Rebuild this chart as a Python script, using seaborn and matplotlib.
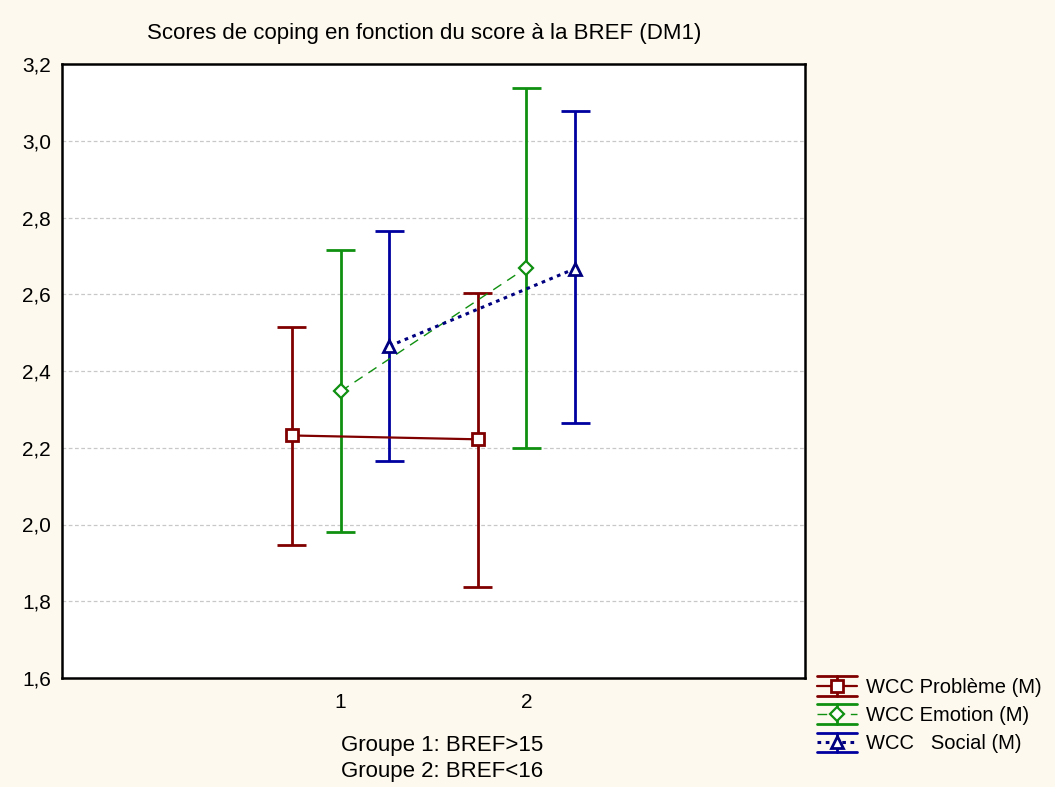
import numpy as np
import pandas as pd
import matplotlib
matplotlib.use("Agg")
import matplotlib.pyplot as plt
import seaborn as sns
from matplotlib.legend_handler import HandlerBase
from matplotlib.lines import Line2D

# ---- data ----
groups = [1, 2]
series = ["WCC Problème (M)", "WCC Emotion (M)", "WCC   Social (M)"]
prob_mean = [2.232, 2.222]
prob_low = [1.947, 1.837]
prob_high = [2.514, 2.603]
emo_mean = [2.347, 2.669]
emo_low = [1.980, 2.200]
emo_high = [2.715, 3.137]
soc_mean = [2.465, 2.667]
soc_low = [2.166, 2.265]
soc_high = [2.765, 3.077]
yticks = [1.6, 1.8, 2.0, 2.2, 2.4, 2.6, 2.8, 3.0, 3.2]
title = "Scores de coping en fonction du score à la BREF (DM1)"
notes = ["Groupe 1: BREF>15", "Groupe 2: BREF<16"]

sns.set_theme(style="white")
plt.rcParams['font.family'] = ['Liberation Sans', 'DejaVu Sans']
plt.rcParams['text.color'] = 'black'

FS = 15
TFS = 16
bg = "#fdf9ee"
fig = plt.figure(figsize=(10.55, 7.87), dpi=100, facecolor=bg)
ax = fig.add_axes([62/1055, 1-678/787, (805-62)/1055, (678-64)/787])
ax.set_facecolor("white")

styles = [
    dict(color="#800000", ecolor="#800000", ls="-", lw=1.6, marker="s", ms=8.5, mew=2.0, offset=-0.263),
    dict(color="#109010", ecolor="#109010", ls=(0, (7, 5)), lw=1.0, marker="D", ms=7.5, mew=1.6, offset=0.0),
    dict(color="#000080", ecolor="#0000a0", ls=(0, (1.2, 1.5)), lw=2.2, marker="^", ms=8.5, mew=2.0, offset=0.263),
]
means = [prob_mean, emo_mean, soc_mean]
lows = [prob_low, emo_low, soc_low]
highs = [prob_high, emo_high, soc_high]

rows = []
for name, m, lo, hi, st in zip(series, means, lows, highs, styles):
    for g, mv, l, h in zip(groups, m, lo, hi):
        rows.append(dict(series=name, x=g + st["offset"], mean=mv, low=l, high=h))
df = pd.DataFrame(rows)

for name, st in zip(series, styles):
    d = df[df.series == name]
    ax.vlines(d.x, d.low, d.high, color=st["ecolor"], lw=2.0, zorder=2)
    ax.hlines(d.low, d.x - 0.078, d.x + 0.078, color=st["ecolor"], lw=2.0, zorder=2)
    ax.hlines(d.high, d.x - 0.078, d.x + 0.078, color=st["ecolor"], lw=2.0, zorder=2)
    sns.lineplot(data=d, x="x", y="mean", ax=ax, color=st["color"], lw=st["lw"],
                 linestyle=st["ls"], marker=st["marker"], markersize=st["ms"],
                 markerfacecolor="white", markeredgecolor=st["color"],
                 markeredgewidth=st["mew"], zorder=3, legend=False, estimator=None)

ax.set_xlim(-0.5, 3.5)
ax.set_ylim(1.6, 3.2)
ax.set_xticks([0, 1, 2, 3])
ax.set_xticklabels(["", "1", "2", ""])
ax.set_yticks(yticks)
ax.set_yticklabels([f"{v:.1f}".replace(".", ",") for v in yticks])
ax.set_xlabel("")
ax.set_ylabel("")
ax.tick_params(direction="in", length=4, width=1.2, colors="black", labelsize=FS)
ax.tick_params(axis="x", pad=11)
ax.tick_params(axis="y", pad=8)
for v in yticks[1:-1]:
    ax.axhline(v, color="#c8c8c8", lw=0.9, ls=(0, (3, 2)), zorder=1)
for s in ax.spines.values():
    s.set_color("black")
    s.set_linewidth(1.8)
    s.set_visible(True)

fig.text(424/1055, 1-34/787, title, ha="center", va="center", fontsize=TFS, color="black")
fig.text(442/1055, 1-746/787, notes[0], ha="center", va="center", fontsize=TFS, color="black")
fig.text(442/1055, 1-772/787, notes[1], ha="center", va="center", fontsize=TFS, color="black")


class ErrHandler(HandlerBase):
    def __init__(self, st):
        super().__init__()
        self.st = st

    def create_artists(self, legend, orig_handle, xdescent, ydescent, width, height, fontsize, trans):
        st = self.st
        x0, x1 = -xdescent, -xdescent + width
        y0, y1 = -ydescent, -ydescent + height
        xm, ym = (x0 + x1) / 2, (y0 + y1) / 2
        arts = [
            Line2D([x0, x1], [y1, y1], color=st["ecolor"], lw=2.0),
            Line2D([x0, x1], [y0, y0], color=st["ecolor"], lw=2.0),
            Line2D([xm, xm], [y0, y1], color=st["ecolor"], lw=2.0),
            Line2D([x0, x1], [ym, ym], color=st["color"], lw=st["lw"], linestyle=st["ls"]),
            Line2D([xm], [ym], marker=st["marker"], ms=st["ms"], mfc="white",
                   mec=st["color"], mew=st["mew"], ls="none"),
        ]
        for a in arts:
            a.set_transform(trans)
        return arts


handles = [Line2D([], [], color=st["color"]) for st in styles]
hmap = {h: ErrHandler(st) for h, st in zip(handles, styles)}
lfs = 14.5
em = lfs * 100 / 72
leg = fig.legend(handles, series, handler_map=hmap, loc="upper left",
                 bbox_to_anchor=(815/1055, 1-674/787), frameon=False, fontsize=lfs,
                 handlelength=40/em, handleheight=23/em, labelspacing=7.5/em,
                 handletextpad=9/em, borderaxespad=0, borderpad=0.1, labelcolor="black")

fig.savefig("out.png", dpi=100, facecolor=bg)
